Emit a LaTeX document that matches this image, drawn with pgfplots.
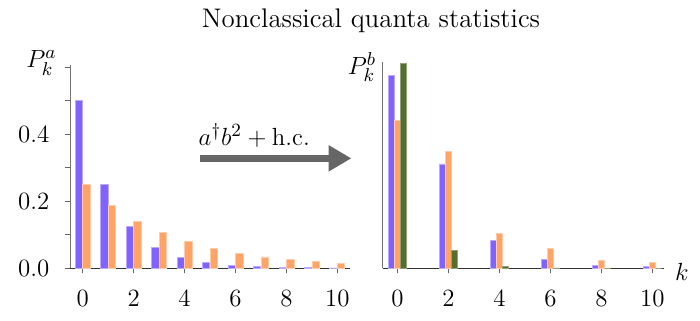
\documentclass[border=0pt]{standalone}
\usepackage{pgfplots}
\pgfplotsset{compat=1.18}
\usetikzlibrary{arrows.meta}

\definecolor{barblue}{RGB}{128,98,255}
\definecolor{barorange}{RGB}{255,163,102}
\definecolor{bargreen}{RGB}{84,110,46}
\definecolor{arrowgray}{RGB}{102,102,102}

% left panel: thermal statistics of mode a
\pgfplotstableread{
k   blue      orange
0   0.5       0.25
1   0.25      0.1875
2   0.125     0.1406
3   0.0625    0.1055
4   0.03125   0.0791
5   0.015625  0.0593
6   0.0078    0.0445
7   0.0039    0.0334
8   0.00195   0.0250
9   0.00098   0.0188
10  0.00049   0.0141
}\leftdata

% right panel: mode b, even k only
\pgfplotstableread{
k   blue    orange  green
0   0.574   0.441   0.611
2   0.311   0.349   0.054
4   0.083   0.104   0.005
6   0.025   0.0587  0.0005
8   0.007   0.022   0.0
10  0.004   0.016   0.0
}\rightdata

\pgfplotsset{
  panel/.style={
    scale only axis,
    height=99.5pt,
    ymin=0,
    axis x line*=bottom,
    axis y line*=left,
    x axis line style={black!80,-},
    y axis line style={black!55,-},
    tick align=outside,
    major tick length=2.5pt,
    minor tick length=2.5pt,
    xtick={0,2,...,10},
    every tick/.style={black!60},
    tick label style={font=\fontsize{13}{15}\selectfont},
    xticklabel style={yshift=-5pt},
    yticklabel style={xshift=-4pt},
    clip=false,
  },
  bars/.style={ybar, bar width=#1, line width=0.4pt},
}

\begin{document}
\begin{tikzpicture}
\path[use as bounding box] (-33.8pt,-25.1pt) rectangle (304.3pt,129.5pt);

\begin{axis}[panel,
  at={(0pt,0pt)}, anchor=south west,
  width=135.3pt, height=98.1pt,
  xmin=-0.5, xmax=10.5, ymax=0.607,
  ytick={0,0.2,0.4},
  minor ytick={0.1,0.3,0.5,0.6},
  yticklabel style={/pgf/number format/fixed, /pgf/number format/fixed zerofill, /pgf/number format/precision=1},
  ylabel={$P_k^a$},
  every axis y label/.style={at={(axis description cs:0,1)}, anchor=north east, inner sep=0pt,
    xshift=-6.3pt, yshift=7pt, font=\fontsize{13}{15}\selectfont},
]
\addplot[bars=0.29, bar shift=-0.15, fill=barblue, draw=barblue!55!white] table[x=k, y=blue] {\leftdata};
\addplot[bars=0.29, bar shift=0.15, fill=barorange, draw=barorange!55!white] table[x=k, y=orange] {\leftdata};

\draw[arrowgray, line width=3.1pt, -{Triangle[length=11pt, width=12pt]}]
  (axis cs:4.62,0.328) -- (axis cs:10.55,0.328);
\node[anchor=base west, inner sep=0pt, font=\fontsize{13}{15}\selectfont] at (axis cs:4.54,0.367) {$a^\dagger b^2 + \mathrm{h.c.}$};
\end{axis}

\begin{axis}[panel,
  at={(151.1pt,0pt)}, anchor=south west,
  width=136pt,
  xmin=-0.57, xmax=10.47, ymax=0.615,
  ytick=\empty,
  minor ytick={0,0.1,...,0.6},
  ylabel={$P_k^b$},
  every axis y label/.style={at={(axis description cs:0,1)}, anchor=north east, inner sep=0pt,
    xshift=-3pt, yshift=5pt, font=\fontsize{13}{15}\selectfont},
  xlabel={$k$},
  every axis x label/.style={at={(axis description cs:1,0)}, anchor=west, inner sep=0pt,
    xshift=5pt, yshift=-2pt, font=\fontsize{13}{15}\selectfont},
]
\addplot[bars=0.235, bar shift=-0.24, fill=barblue, draw=barblue!55!white] table[x=k, y=blue] {\rightdata};
\addplot[bars=0.235, bar shift=0, fill=barorange, draw=barorange!55!white] table[x=k, y=orange] {\rightdata};
\addplot[bars=0.235, bar shift=0.24, fill=bargreen, draw=bargreen!65!white] table[x=k, y=green] {\rightdata};
\end{axis}

\node[anchor=base, font=\fontsize{13}{15.6}\selectfont] at (145.4pt,116.4pt) {Nonclassical quanta statistics};
\end{tikzpicture}
\end{document}
